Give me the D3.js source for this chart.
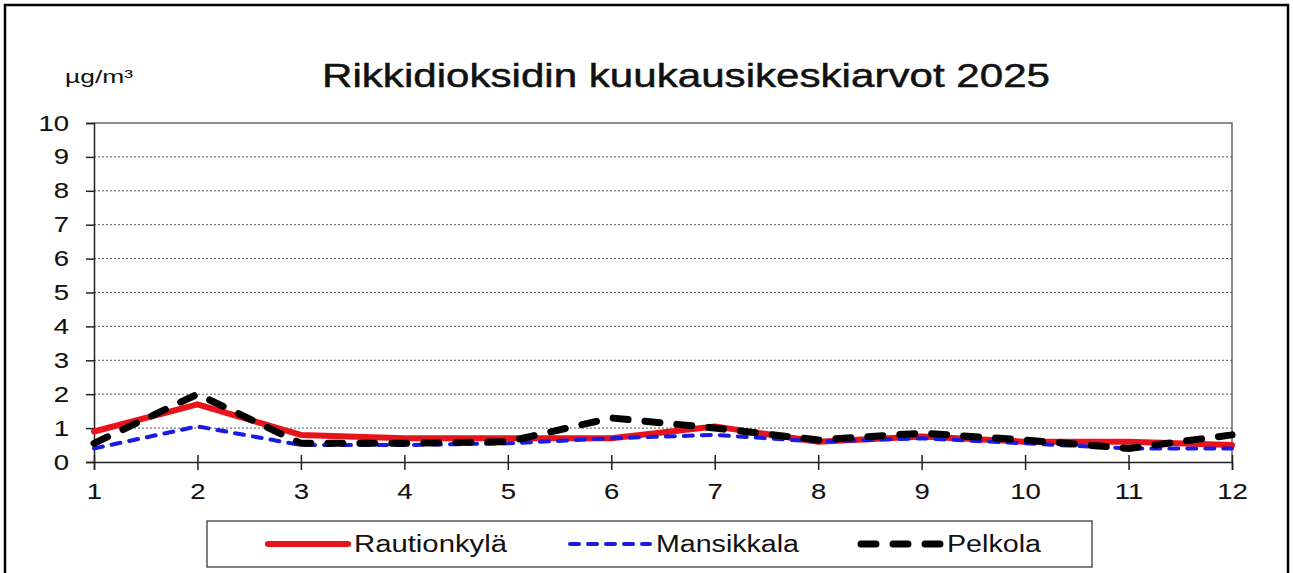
<!DOCTYPE html>
<html>
<head>
<meta charset="utf-8">
<script src="https://cdn.jsdelivr.net/npm/d3@7"></script>
<style>
  body { margin: 0; background: #fff; }
  svg { display: block; font-family: "Liberation Sans", Arial, sans-serif; }
</style>
</head>
<body>
<div id="chart"></div>
<script>
// Monthly means of sulphur dioxide, µg/m³
const months = [1, 2, 3, 4, 5, 6, 7, 8, 9, 10, 11, 12];
const rautionkyla = [0.9, 1.7, 0.8, 0.7, 0.7, 0.7, 1.05, 0.6, 0.75, 0.6, 0.6, 0.5];
const mansikkala = [0.4, 1.05, 0.5, 0.5, 0.55, 0.7, 0.8, 0.6, 0.7, 0.55, 0.4, 0.4];
const pelkola = [0.55, 2.0, 0.55, 0.55, 0.6, 1.3, 1.0, 0.65, 0.85, 0.65, 0.4, 0.8];
const yTicks = [0, 1, 2, 3, 4, 5, 6, 7, 8, 9, 10];

const width = 1293, height = 573;
const padding = {top: 123, right: 61, bottom: 111, left: 94};

// the original picture is stretched sideways, so text is widened a bit
function widen(sel, k) {
    sel.each(function() {
        const w = this.getComputedTextLength();
        d3.select(this).attr("textLength", w * k).attr("lengthAdjust", "spacingAndGlyphs");
    });
}

const svg = d3.select("#chart").append("svg")
    .attr("width", width)
    .attr("height", height);

// outer frame (bottom edge is cut off in the picture)
svg.append("path")
    .attr("d", "M5,573 V5 H1288 V573")
    .attr("fill", "none")
    .attr("stroke", "#000")
    .attr("stroke-width", 2.5);

const xScale = d3.scaleLinear()
    .domain([1, 12])
    .range([padding.left, width - padding.right]);

const yScale = d3.scaleLinear()
    .domain([0, 10])
    .range([height - padding.bottom, padding.top]);

// gridlines
svg.append("g")
    .selectAll("line")
    .data(yTicks.filter(d => d > 0 && d < 10))
    .enter().append("line")
    .attr("x1", padding.left)
    .attr("x2", width - padding.right)
    .attr("y1", d => yScale(d))
    .attr("y2", d => yScale(d))
    .attr("stroke", "#555")
    .attr("stroke-width", 1)
    .attr("stroke-dasharray", "2,2");

// plot frame top and right
svg.append("path")
    .attr("d", `M${padding.left},${yScale(10)} H${xScale(12)} V${yScale(0)}`)
    .attr("fill", "none")
    .attr("stroke", "#666")
    .attr("stroke-width", 1.5);

// Y axis
const yAxis = svg.append("g")
    .attr("transform", "translate(" + padding.left + ",0)")
    .call(d3.axisLeft(yScale).tickValues(yTicks).tickSize(8).tickPadding(17).tickFormat(d3.format("d")));
yAxis.select(".domain").attr("stroke", "#222").attr("stroke-width", 1.5);
yAxis.selectAll(".tick line").attr("stroke", "#222").attr("stroke-width", 1.5);
yAxis.selectAll("text").attr("font-size", 22).attr("fill", "#111")
    .attr("font-family", "Liberation Sans, Arial, sans-serif")
    .attr("stroke", "#111").attr("stroke-width", 0.1)
    .call(widen, 1.25);

// X axis
const xAxis = svg.append("g")
    .attr("transform", "translate(0," + yScale(0) + ")")
    .call(d3.axisBottom(xScale).tickValues(months).tickSize(8).tickPadding(13).tickFormat(d3.format("d")));
xAxis.select(".domain").attr("stroke", "#222").attr("stroke-width", 1.5);
xAxis.selectAll(".tick line").attr("y1", -7).attr("stroke", "#222").attr("stroke-width", 1.5);
xAxis.selectAll("text").attr("font-size", 22).attr("fill", "#111")
    .attr("font-family", "Liberation Sans, Arial, sans-serif")
    .attr("stroke", "#111").attr("stroke-width", 0.1)
    .call(widen, 1.25);

// Titles
svg.append("text")
    .attr("x", 686)
    .attr("y", 87)
    .attr("text-anchor", "middle")
    .attr("font-size", 34)
    .attr("fill", "#111")
    .attr("stroke", "#111").attr("stroke-width", 0.5)
    .attr("textLength", 728)
    .attr("lengthAdjust", "spacingAndGlyphs")
    .text("Rikkidioksidin kuukausikeskiarvot 2025");

svg.append("text")
    .attr("x", 65)
    .attr("y", 83)
    .attr("font-size", 19)
    .attr("fill", "#111")
    .attr("textLength", 68)
    .attr("lengthAdjust", "spacingAndGlyphs")
    .text("µg/m³");

// Series
const series = [
    {name: "Rautionkylä", values: rautionkyla, color: "#e8141a", width: 6, dash: null, cap: "round"},
    {name: "Mansikkala", values: mansikkala, color: "#1a1ae0", width: 4, dash: "9,9", cap: "round"},
    {name: "Pelkola", values: pelkola, color: "#000", width: 7, dash: "15,17", cap: "round"}
];

const line = d3.line()
    .x((d, i) => xScale(months[i]))
    .y(d => yScale(d));

series.forEach(s => {
    svg.append("path")
        .datum(s.values)
        .attr("d", line)
        .attr("fill", "none")
        .attr("stroke", s.color)
        .attr("stroke-width", s.width)
        .attr("stroke-linecap", s.cap)
        .attr("stroke-linejoin", "round")
        .attr("stroke-dasharray", s.dash);
});

// Legend
const legend = svg.append("g");
legend.append("rect")
    .attr("x", 207)
    .attr("y", 521)
    .attr("width", 885)
    .attr("height", 46)
    .attr("fill", "#fff")
    .attr("stroke", "#555")
    .attr("stroke-width", 1.5);

const legendX = [268, 570, 861];
const legendTextW = [153, 143, 94];
series.forEach((s, i) => {
    legend.append("line")
        .attr("x1", legendX[i])
        .attr("x2", legendX[i] + 80)
        .attr("y1", 544)
        .attr("y2", 544)
        .attr("stroke", s.color)
        .attr("stroke-width", s.width)
        .attr("stroke-linecap", s.cap)
        .attr("stroke-dasharray", s.dash);
    legend.append("text")
        .attr("x", legendX[i] + 86)
        .attr("y", 552)
        .attr("font-size", 23)
        .attr("fill", "#111")
        .attr("textLength", legendTextW[i])
        .attr("lengthAdjust", "spacingAndGlyphs")
        .text(s.name);
});
</script>
</body>
</html>
